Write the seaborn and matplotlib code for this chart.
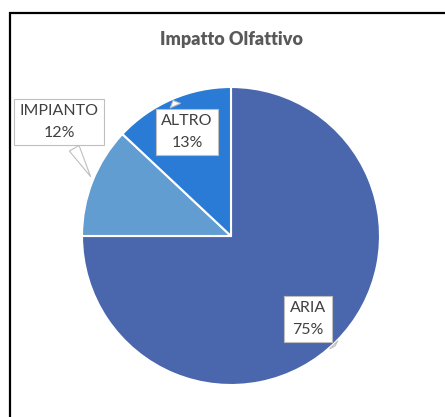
import matplotlib
matplotlib.use("Agg")
import matplotlib.pyplot as plt
import seaborn as sns
from matplotlib.patches import Rectangle

categories = ["ARIA", "IMPIANTO", "ALTRO"]
values = [75, 12, 13]
title = "Impatto Olfattivo"
colors = ["#4A66AC", "#629DD1", "#2A7BD6"]

sns.set_theme(style="white")
plt.rcParams["font.family"] = ["Lato", "DejaVu Sans"]

W, H = 445, 417
fig = plt.figure(figsize=(W / 100, H / 100), dpi=100)
fig.patch.set_facecolor("white")

# outer chart frame
fig.patches.append(Rectangle((10 / W, -0.1), 1.2, (H - 13.5) / H + 0.1,
                             transform=fig.transFigure, fill=False,
                             edgecolor="black", linewidth=1.6))

cx, cy, r = 231, 236, 149
ax = fig.add_axes([(cx - r) / W, (H - cy - r) / H, 2 * r / W, 2 * r / H])
palette = sns.color_palette(colors)
wedges, _ = ax.pie(values, colors=palette, startangle=90, counterclock=False,
                   radius=1, wedgeprops=dict(edgecolor="white", linewidth=1.5))
ax.set_xlim(-1, 1)
ax.set_ylim(-1, 1)
ax.set_axis_off()

def px(x, y):
    return ((x - cx) / r, (cy - y) / r)

label_pos = {"ARIA": ((308, 319), (335, 346)),
             "IMPIANTO": ((59, 122), (92, 179)),
             "ALTRO": ((187, 132), (172, 98))}

for cat, val in zip(categories, values):
    (bx, by), (tx, ty) = label_pos[cat]
    ax.annotate(f"{cat}\n{val}%", xy=px(tx, ty), xytext=px(bx, by),
                ha="center", va="center", fontsize=11.5, color="#404040",
                linespacing=1.7, annotation_clip=False,
                bbox=dict(boxstyle="square,pad=0.35", fc="white", ec="#BFBFBF", lw=0.8),
                arrowprops=dict(arrowstyle="wedge,tail_width=0.7,shrink_factor=0.5",
                                fc="white", ec="#BFBFBF", lw=0.8))

fig.text(231 / W, 1 - 39 / H, title, ha="center", va="center",
         fontsize=13, fontweight="heavy", color="#595959")

fig.savefig("out.png", dpi=100)
